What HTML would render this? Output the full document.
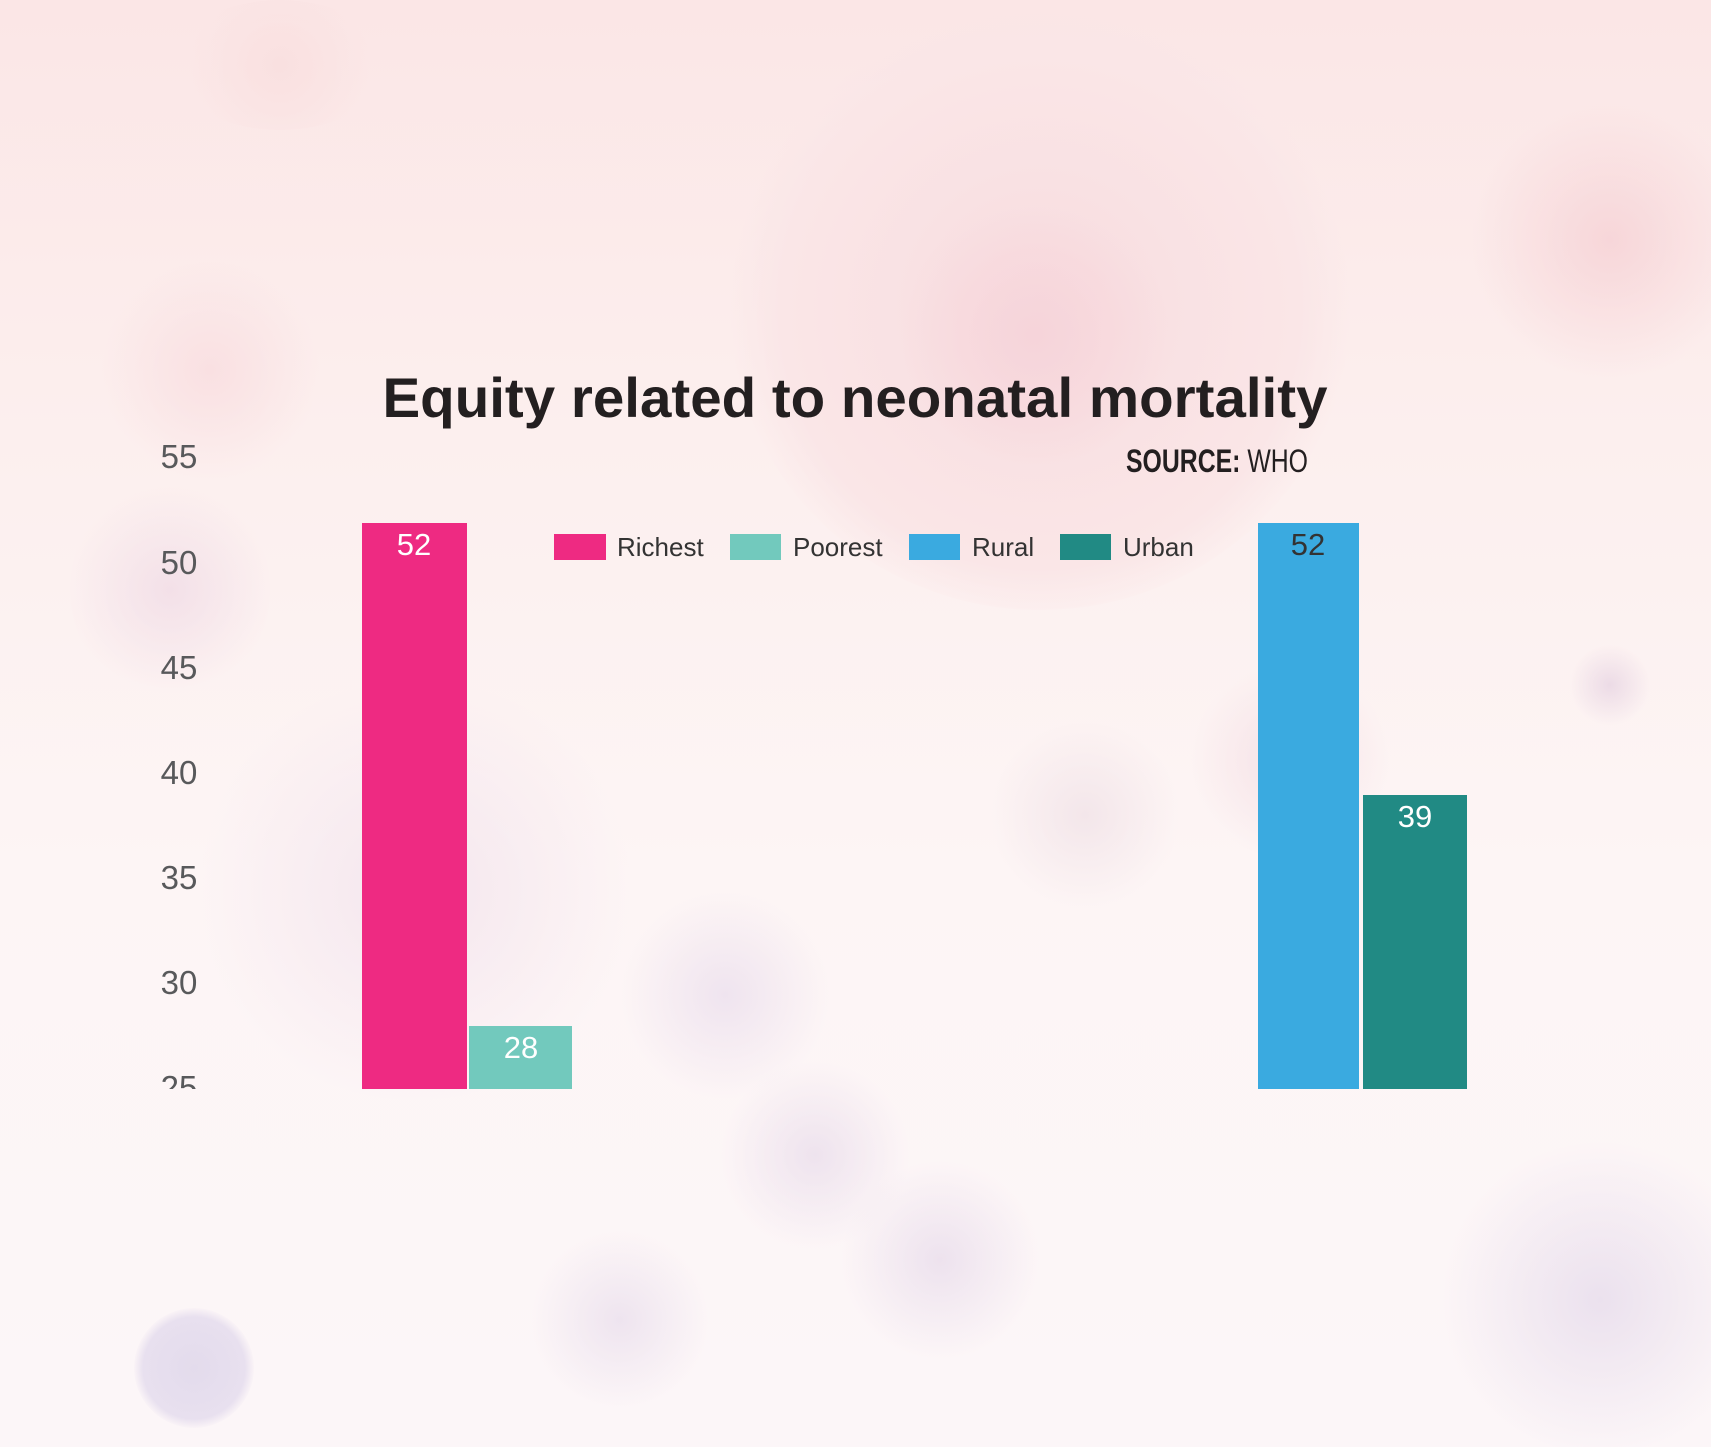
<!DOCTYPE html>
<html><head><meta charset="utf-8"><style>
html,body{margin:0;padding:0;width:1711px;height:1447px;overflow:hidden}
html{background:#fcf6f8}
body{position:relative;
background:linear-gradient(180deg,#fbe6e6 0%,#fcefee 30%,#fdf5f5 60%,#fcf6f8 100%);
font-family:"Liberation Sans",sans-serif}
.b{position:absolute;border-radius:50%}
</style></head><body>
<div class="b" style="left:730px;top:10px;width:620px;height:600px;background:radial-gradient(circle,#f8dcdf 0%,#fae6e7 60%,rgba(250,230,230,0) 72%)"></div>
<div class="b" style="left:900px;top:200px;width:270px;height:270px;background:radial-gradient(circle,#f6d4da 0%,rgba(246,212,218,0) 70%)"></div>
<div class="b" style="left:1470px;top:100px;width:280px;height:280px;background:radial-gradient(circle,#f7d6d9 0%,rgba(247,214,217,0) 70%)"></div>
<div class="b" style="left:100px;top:260px;width:220px;height:220px;background:radial-gradient(circle,#f9e0e2 0%,rgba(249,224,226,0) 70%)"></div>
<div class="b" style="left:170px;top:0px;width:220px;height:130px;background:radial-gradient(circle,#f9e0e0 0%,rgba(249,224,224,0) 70%)"></div>
<div class="b" style="left:70px;top:480px;width:200px;height:220px;background:radial-gradient(circle,#f3e0e8 0%,rgba(243,224,232,0) 70%)"></div>
<div class="b" style="left:190px;top:680px;width:450px;height:420px;background:radial-gradient(circle,#f4e6ee 0%,rgba(244,230,238,0) 70%)"></div>
<div class="b" style="left:620px;top:890px;width:210px;height:210px;background:radial-gradient(circle,#efe4ef 0%,rgba(239,228,239,0) 70%)"></div>
<div class="b" style="left:720px;top:1060px;width:190px;height:190px;background:radial-gradient(circle,#eee3ee 0%,rgba(238,227,238,0) 70%)"></div>
<div class="b" style="left:840px;top:1160px;width:200px;height:200px;background:radial-gradient(circle,#ede2ee 0%,rgba(237,226,238,0) 70%)"></div>
<div class="b" style="left:530px;top:1230px;width:180px;height:180px;background:radial-gradient(circle,#eee4ef 0%,rgba(238,228,239,0) 70%)"></div>
<div class="b" style="left:134px;top:1308px;width:120px;height:120px;background:radial-gradient(circle,#e3dbec 0%,#e8e0ef 60%,rgba(232,224,239,0) 72%)"></div>
<div class="b" style="left:1440px;top:1140px;width:320px;height:320px;background:radial-gradient(circle,#ebe1ee 0%,rgba(235,225,238,0) 70%)"></div>
<div class="b" style="left:1570px;top:645px;width:80px;height:80px;background:radial-gradient(circle,#ecdbe6 0%,rgba(236,219,230,0) 72%)"></div>
<div class="b" style="left:1190px;top:660px;width:200px;height:200px;background:radial-gradient(circle,#f5e1e6 0%,rgba(245,225,230,0) 70%)"></div>
<div class="b" style="left:990px;top:720px;width:190px;height:190px;background:radial-gradient(circle,#f3e6ea 0%,rgba(243,230,234,0) 70%)"></div>

<svg width="1711" height="1447" style="position:absolute;left:0;top:0">
<defs><clipPath id="c"><rect x="0" y="0" width="1711" height="1089"/></clipPath></defs>
<text x="855" y="417" text-anchor="middle" font-family="Liberation Sans" font-weight="bold" font-size="56" fill="#231f20" textLength="945" lengthAdjust="spacingAndGlyphs">Equity related to neonatal mortality</text>
<text x="1308" y="472" text-anchor="end" font-family="Liberation Sans" font-size="32" fill="#231f20" textLength="182" lengthAdjust="spacingAndGlyphs"><tspan font-weight="bold">SOURCE:</tspan> WHO</text>
<g font-size="33" fill="#58595b" text-anchor="middle" clip-path="url(#c)">
<text x="179" y="468">55</text><text x="179" y="574">50</text><text x="179" y="679">45</text>
<text x="179" y="784">40</text><text x="179" y="889">35</text><text x="179" y="994">30</text><text x="179" y="1099">25</text>
</g>
<rect x="362" y="523" width="105" height="566" fill="#ee2a82"/>
<rect x="469" y="1026" width="103" height="63" fill="#72c9bd"/>
<rect x="1258" y="523" width="101" height="566" fill="#3aaae0"/>
<rect x="1363" y="795" width="104" height="294" fill="#218a84"/>
<g font-size="31" text-anchor="middle">
<text x="414" y="555" fill="#fff">52</text>
<text x="521" y="1058" fill="#fff">28</text>
<text x="1308" y="555" fill="#333">52</text>
<text x="1415" y="827" fill="#fff">39</text>
</g>
<rect x="554" y="534" width="52" height="26" fill="#ee2a82"/>
<rect x="730" y="534" width="51" height="26" fill="#72c9bd"/>
<rect x="909" y="534" width="51" height="26" fill="#3aaae0"/>
<rect x="1060" y="534" width="51" height="26" fill="#218a84"/>
<g font-size="26" fill="#333">
<text x="617" y="556">Richest</text>
<text x="793" y="556">Poorest</text>
<text x="972" y="556">Rural</text>
<text x="1123" y="556">Urban</text>
</g>
</svg>
</body></html>
